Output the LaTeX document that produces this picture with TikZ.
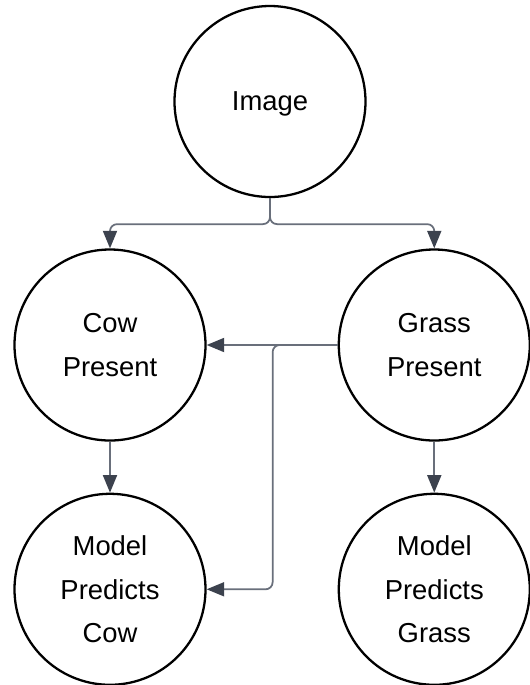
\documentclass[tikz,border=0pt]{standalone}
\usepackage{fontspec}
\setmainfont{Liberation Sans}
\usepackage{xcolor}
\usepackage{tikz}
\usetikzlibrary{positioning,arrows.meta}

\definecolor{linegray}{RGB}{105,111,123}
\definecolor{tipgray}{RGB}{60,66,78}

\begin{document}
\begin{tikzpicture}[
    node distance=1.02cm and 2.62cm,
    circ/.style={
        circle, draw=black, line width=1.3pt, minimum size=3.82cm,
        inner sep=0pt, align=center, text depth=0pt,
        font=\fontsize{15.6}{24.8}\selectfont
    },
    line/.style={draw, line width=1pt, color=linegray, rounded corners=4pt,
        -{Triangle[length=10pt,width=8pt,color=tipgray]}}
]
    \useasboundingbox (0,0) rectangle (10.58,-13.7);
    \node [circ] (img) at (5.4,-2.03) {Image};
    \node [circ] (cow) at (2.2,-6.9) {Cow\\Present};
    \node [circ, right=of cow] (grass) {Grass\\Present};
    \node [circ, below=of cow] (mpcow) {Model\\Predicts\\Cow};
    \node [circ, below=of grass] (mpgrass) {Model\\Predicts\\Grass};
    \path [line] (img.south) -- ++(0,-0.52) -| (cow.north);
    \path [line] (img.south) -- ++(0,-0.52) -| (grass.north);
    \path [line] (grass.west) -- (cow.east);
    \path [line] (grass.west) -- ++(-1.3,0) |- (mpcow.east);
    \path [line] (cow.south) -- (mpcow.north);
    \path [line] (grass.south) -- (mpgrass.north);
\end{tikzpicture}
\end{document}
